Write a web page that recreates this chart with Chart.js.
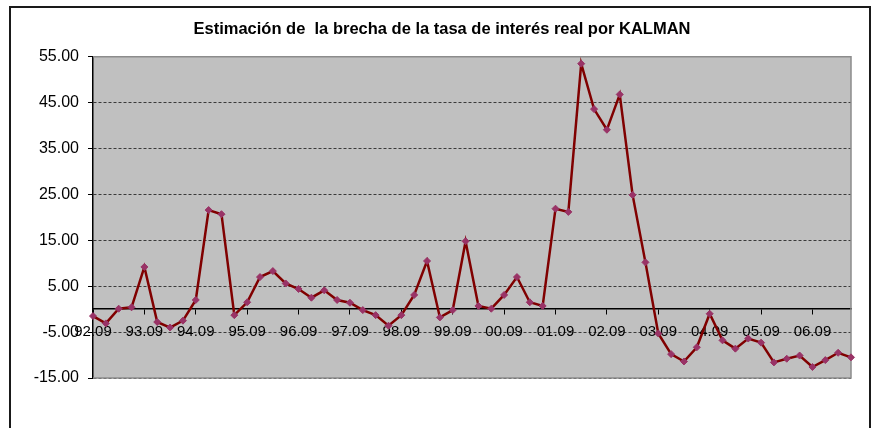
<!DOCTYPE html>
<html>
<head>
<meta charset="utf-8">
<script src="https://cdn.jsdelivr.net/npm/chart.js@4"></script>
<style>
    body { margin: 0; background: #ffffff; }
    canvas { display: block; }
</style>
</head>
<body>
<canvas id="chart-brecha" width="875" height="428"></canvas>
<script>
// Trimestres (año.mes)
const trimestres = [
    '92.09', '92.12', '93.03', '93.06', '93.09', '93.12', '94.03', '94.06',
    '94.09', '94.12', '95.03', '95.06', '95.09', '95.12', '96.03', '96.06',
    '96.09', '96.12', '97.03', '97.06', '97.09', '97.12', '98.03', '98.06',
    '98.09', '98.12', '99.03', '99.06', '99.09', '99.12', '00.03', '00.06',
    '00.09', '00.12', '01.03', '01.06', '01.09', '01.12', '02.03', '02.06',
    '02.09', '02.12', '03.03', '03.06', '03.09', '03.12', '04.03', '04.06',
    '04.09', '04.12', '05.03', '05.06', '05.09', '05.12', '06.03', '06.06',
    '06.09', '06.12', '07.03', '07.06'
];

// Brecha de la tasa de interés real (estimación Kalman)
const brecha = [
    -1.5, -3.1, 0.1, 0.4, 9.2, -2.8, -4.0, -2.5,
    2.0, 21.6, 20.7, -1.3, 1.5, 7.0, 8.3, 5.6,
    4.4, 2.5, 4.1, 2.0, 1.4, -0.2, -1.3, -3.6,
    -1.3, 3.1, 10.5, -1.8, -0.2, 14.8, 0.7, 0.1,
    3.1, 7.0, 1.5, 0.7, 21.9, 21.2, 53.5, 43.6,
    39.1, 46.8, 24.9, 10.2, -5.3, -9.8, -11.4, -8.3,
    -1.0, -6.8, -8.6, -6.4, -7.3, -11.6, -10.8, -10.1,
    -12.6, -11.1, -9.5, -10.5
];

// Eje Y
const yMin = -15;
const yMax = 55;
const yPaso = 10;

const titulo = 'Estimación de  la brecha de la tasa de interés real por KALMAN';

// Fondo gris del área de trazado y marco exterior
const fondoPlugin = {
    id: 'fondo',
    beforeDraw(chart) {
        const { ctx, chartArea } = chart;
        ctx.save();
        ctx.fillStyle = '#c0c0c0';
        ctx.fillRect(chartArea.left, chartArea.top, chartArea.right - chartArea.left, chartArea.bottom - chartArea.top);
        // marco del gráfico
        ctx.strokeStyle = '#1a1a1a';
        ctx.lineWidth = 2;
        ctx.strokeRect(10, 7, 860, 440);
        ctx.restore();
    },
    beforeDatasetsDraw(chart) {
        const { ctx, chartArea } = chart;
        ctx.save();
        ctx.strokeStyle = '#8c8c8c';
        ctx.lineWidth = 1.5;
        ctx.beginPath();
        ctx.moveTo(chartArea.left, chartArea.top);
        ctx.lineTo(chartArea.right, chartArea.top);
        ctx.lineTo(chartArea.right, chartArea.bottom);
        ctx.lineTo(chartArea.left, chartArea.bottom);
        ctx.stroke();
        ctx.restore();
    }
};

const ctx = document.getElementById('chart-brecha');

new Chart(ctx, {
    type: 'line',
    data: {
        labels: trimestres,
        datasets: [{
            label: 'Brecha',
            data: brecha,
            borderColor: '#800000',
            borderWidth: 2.5,
            tension: 0,
            pointStyle: 'rectRot',
            pointRadius: 3.5,
            pointBackgroundColor: '#993366',
            pointBorderColor: '#993366',
            pointBorderWidth: 1
        }]
    },
    options: {
        responsive: false,
        animation: false,
        devicePixelRatio: 1,
        layout: {
            padding: { left: 33, right: 24, top: 0, bottom: 50 }
        },
        plugins: {
            legend: { display: false },
            tooltip: { enabled: false },
            title: {
                display: true,
                text: titulo,
                color: '#000000',
                font: { family: 'Liberation Sans', size: 16.5, weight: 'bold' },
                padding: { top: 20, bottom: 17 }
            }
        },
        scales: {
            x: {
                position: { y: 0 },
                offset: false,
                grid: {
                    drawOnChartArea: false,
                    drawTicks: true,
                    tickLength: 5,
                    tickColor: '#000000'
                },
                border: { display: true, color: '#000000', width: 1.5 },
                ticks: {
                    autoSkip: false,
                    maxRotation: 0,
                    padding: 9,
                    color: '#000000',
                    font: { family: 'Liberation Sans', size: 15 },
                    callback: function(value, index) {
                        const lab = trimestres[index];
                        return lab.endsWith('.09') ? lab : null;
                    }
                }
            },
            y: {
                min: yMin,
                max: yMax,
                afterFit: function(scale) {
                    scale.width = 60;
                },
                grid: {
                    color: '#3a3a3a',
                    lineWidth: 1,
                    drawTicks: true,
                    tickLength: 5,
                    tickColor: '#000000'
                },
                border: { display: true, color: '#000000', width: 1.5, dash: [3, 2] },
                ticks: {
                    stepSize: yPaso,
                    padding: 9,
                    color: '#000000',
                    font: { family: 'Liberation Sans', size: 16 },
                    callback: function(value) {
                        return value.toFixed(2);
                    }
                }
            }
        }
    },
    plugins: [fondoPlugin]
});
</script>
</body>
</html>
